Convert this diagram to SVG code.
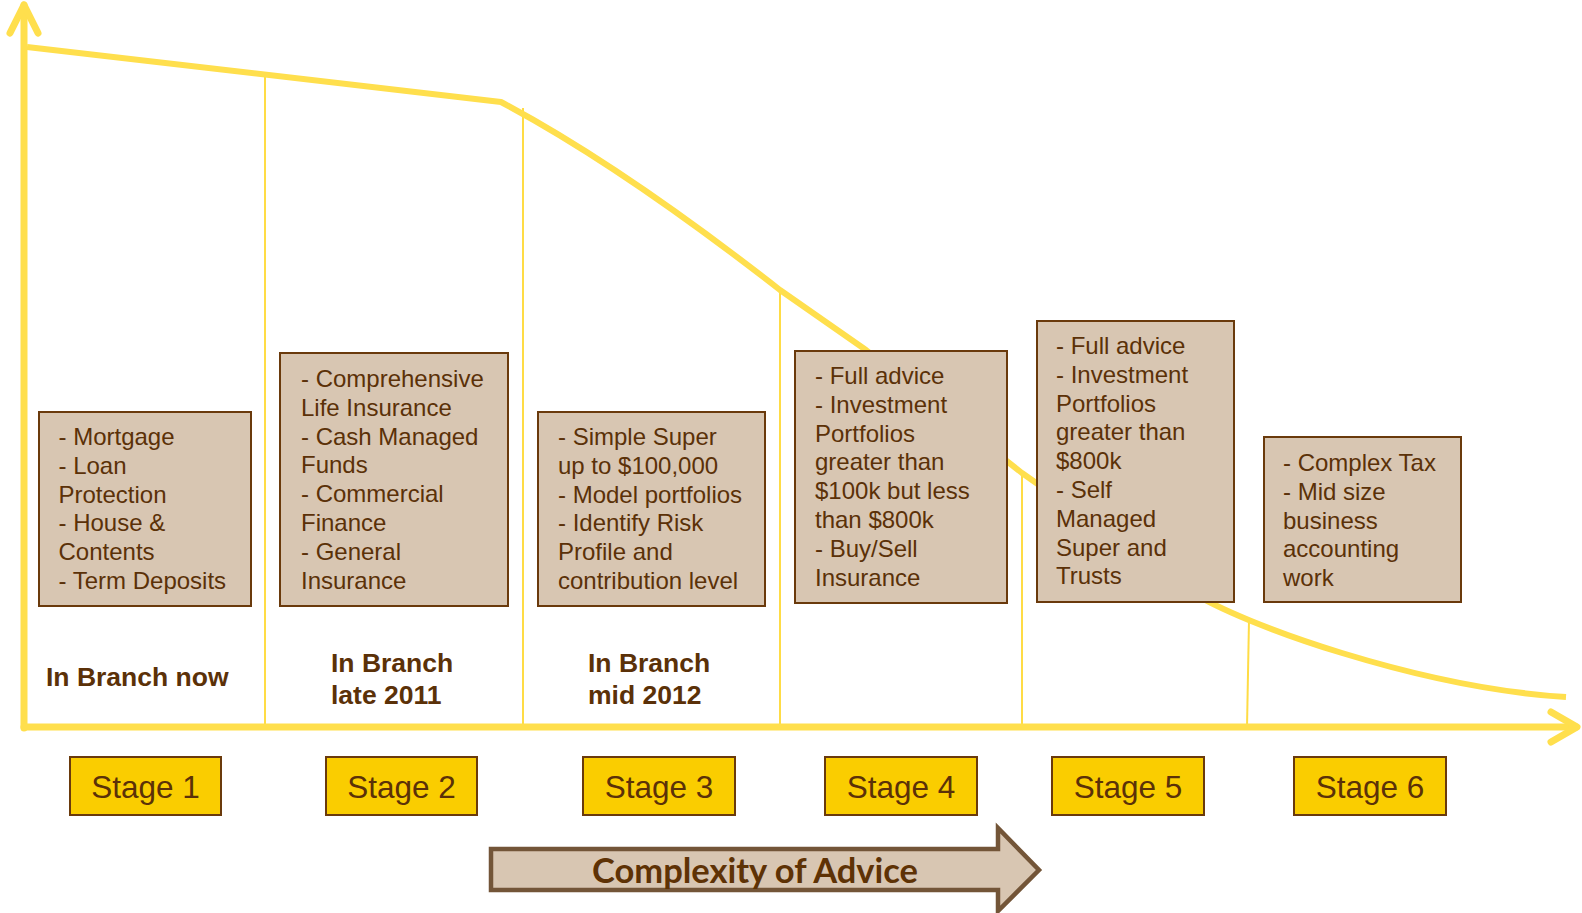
<svg xmlns="http://www.w3.org/2000/svg" width="1582" height="913" viewBox="0 0 1582 913">
  <style>
    .bg { fill: #ffffff; }
    .axis { fill: none; stroke: #FFDF4D; stroke-width: 7; stroke-linecap: round; stroke-linejoin: round; }
    .trend { fill: none; stroke: #FFDF4D; stroke-width: 6; stroke-linejoin: round; }
    .guide { fill: none; stroke: #FFDC45; stroke-width: 2; }
    .card { fill: #D8C6B2; stroke: #6A3A0C; stroke-width: 2; }
    .card-text { font-family: "Liberation Sans", Arial, sans-serif; font-size: 24px; fill: #5B3108; }
    .period { font-family: "Liberation Sans", Arial, sans-serif; font-size: 26.5px; font-weight: bold; fill: #5B3108; }
    .stage { fill: #FACD00; stroke: #6A3A0C; stroke-width: 2; }
    .stage-text { font-family: "Liberation Sans", Arial, sans-serif; font-size: 31.5px; fill: #5B3108; text-anchor: middle; }
    .banner { fill: #D8C6B2; stroke: #735538; stroke-width: 4.5; stroke-linejoin: miter; }
    .banner-text { font-family: Lato, "Open Sans", sans-serif; font-size: 34.5px; font-weight: bold; fill: #5E3205; text-anchor: middle; }
  </style>

  <rect class="bg" x="0" y="0" width="1582" height="913"/>

  <!-- vertical guides from the curve down to the time axis -->
  <g id="guides">
    <line class="guide" x1="265" y1="77" x2="265" y2="727"/>
    <line class="guide" x1="523" y1="108" x2="523" y2="727"/>
    <line class="guide" x1="780" y1="290" x2="780" y2="727"/>
    <line class="guide" x1="1022" y1="473" x2="1022" y2="727"/>
    <line class="guide" x1="1249" y1="620" x2="1247" y2="727"/>
  </g>

  <!-- axes and the descending curve -->
  <g id="connectors">
    <path class="trend" d="M27,47 L501,102 Q620,165 780,290 L866,350 L1022,473 L1190,591 C1240,624 1420,688 1566,697"/>
    <path class="axis" d="M24,728 L24,5"/>
    <path class="axis" d="M10,33 L24,5 L38,33"/>
    <path class="axis" d="M24,727 L1576,727"/>
    <path class="axis" d="M1551,712 L1577,727 L1551,742"/>
  </g>

  <g id="card1">
    <rect class="card" x="39" y="412" width="212" height="194"/>
    <text class="card-text" x="58.5" y="445">
      <tspan x="58.5">- Mortgage</tspan>
      <tspan x="58.5" dy="28.8">- Loan</tspan>
      <tspan x="58.5" dy="28.8">Protection</tspan>
      <tspan x="58.5" dy="28.8">- House &amp;</tspan>
      <tspan x="58.5" dy="28.8">Contents</tspan>
      <tspan x="58.5" dy="28.8">- Term Deposits</tspan>
    </text>
  </g>

  <g id="card2">
    <rect class="card" x="280" y="353" width="228" height="253"/>
    <text class="card-text" x="301" y="387">
      <tspan x="301">- Comprehensive</tspan>
      <tspan x="301" dy="28.8">Life Insurance</tspan>
      <tspan x="301" dy="28.8">- Cash Managed</tspan>
      <tspan x="301" dy="28.8">Funds</tspan>
      <tspan x="301" dy="28.8">- Commercial</tspan>
      <tspan x="301" dy="28.8">Finance</tspan>
      <tspan x="301" dy="28.8">- General</tspan>
      <tspan x="301" dy="28.8">Insurance</tspan>
    </text>
  </g>

  <g id="card3">
    <rect class="card" x="538" y="412" width="227" height="194"/>
    <text class="card-text" x="558" y="445">
      <tspan x="558">- Simple Super</tspan>
      <tspan x="558" dy="28.8">up to $100,000</tspan>
      <tspan x="558" dy="28.8">- Model portfolios</tspan>
      <tspan x="558" dy="28.8">- Identify Risk</tspan>
      <tspan x="558" dy="28.8">Profile and</tspan>
      <tspan x="558" dy="28.8">contribution level</tspan>
    </text>
  </g>

  <g id="card4">
    <rect class="card" x="795" y="351" width="212" height="252"/>
    <text class="card-text" x="815" y="384">
      <tspan x="815">- Full advice</tspan>
      <tspan x="815" dy="28.8">- Investment</tspan>
      <tspan x="815" dy="28.8">Portfolios</tspan>
      <tspan x="815" dy="28.8">greater than</tspan>
      <tspan x="815" dy="28.8">$100k but less</tspan>
      <tspan x="815" dy="28.8">than $800k</tspan>
      <tspan x="815" dy="28.8">- Buy/Sell</tspan>
      <tspan x="815" dy="28.8">Insurance</tspan>
    </text>
  </g>

  <g id="card5">
    <rect class="card" x="1037" y="321" width="197" height="281"/>
    <text class="card-text" x="1056" y="354">
      <tspan x="1056">- Full advice</tspan>
      <tspan x="1056" dy="28.8">- Investment</tspan>
      <tspan x="1056" dy="28.8">Portfolios</tspan>
      <tspan x="1056" dy="28.8">greater than</tspan>
      <tspan x="1056" dy="28.8">$800k</tspan>
      <tspan x="1056" dy="28.8">- Self</tspan>
      <tspan x="1056" dy="28.8">Managed</tspan>
      <tspan x="1056" dy="28.8">Super and</tspan>
      <tspan x="1056" dy="28.8">Trusts</tspan>
    </text>
  </g>

  <g id="card6">
    <rect class="card" x="1264" y="437" width="197" height="165"/>
    <text class="card-text" x="1283" y="471">
      <tspan x="1283">- Complex Tax</tspan>
      <tspan x="1283" dy="28.8">- Mid size</tspan>
      <tspan x="1283" dy="28.8">business</tspan>
      <tspan x="1283" dy="28.8">accounting</tspan>
      <tspan x="1283" dy="28.8">work</tspan>
    </text>
  </g>

  <g id="period1">
    <text class="period" x="46" y="686">In Branch now</text>
  </g>
  <g id="period2">
    <text class="period" x="331" y="672">In Branch</text>
    <text class="period" x="331" y="704">late 2011</text>
  </g>
  <g id="period3">
    <text class="period" x="588" y="672">In Branch</text>
    <text class="period" x="588" y="704">mid 2012</text>
  </g>

  <g id="stage1">
    <rect class="stage" x="70" y="757" width="151" height="58"/>
    <text class="stage-text" x="145.5" y="798">Stage 1</text>
  </g>
  <g id="stage2">
    <rect class="stage" x="326" y="757" width="151" height="58"/>
    <text class="stage-text" x="401.5" y="798">Stage 2</text>
  </g>
  <g id="stage3">
    <rect class="stage" x="583" y="757" width="152" height="58"/>
    <text class="stage-text" x="659" y="798">Stage 3</text>
  </g>
  <g id="stage4">
    <rect class="stage" x="825" y="757" width="152" height="58"/>
    <text class="stage-text" x="901" y="798">Stage 4</text>
  </g>
  <g id="stage5">
    <rect class="stage" x="1052" y="757" width="152" height="58"/>
    <text class="stage-text" x="1128" y="798">Stage 5</text>
  </g>
  <g id="stage6">
    <rect class="stage" x="1294" y="757" width="152" height="58"/>
    <text class="stage-text" x="1370" y="798">Stage 6</text>
  </g>

  <g id="complexity">
    <path class="banner" d="M491,849 L998,849 L998,828 L1039,870 L998,911 L998,890 L491,890 Z"/>
    <text class="banner-text" x="755" y="883">Complexity of Advice</text>
  </g>
</svg>
